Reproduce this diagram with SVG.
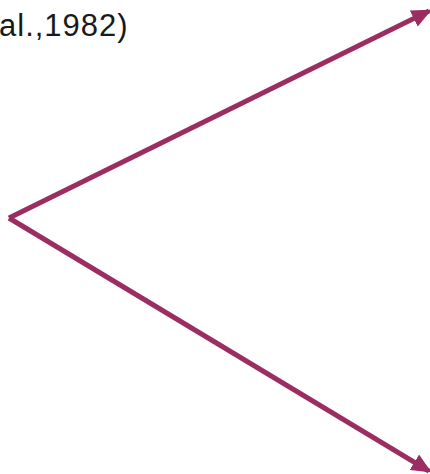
<svg xmlns="http://www.w3.org/2000/svg" width="430" height="474" viewBox="0 0 430 474">
<style>
.c{stroke:#9B2D62;stroke-width:5;fill:none;stroke-linecap:butt}
.t{font-family:"Liberation Sans",Arial,sans-serif;font-size:31px;fill:#1a1a1a;letter-spacing:1px}
</style>
<defs>
<marker id="ah" markerWidth="4" markerHeight="3.6" refX="3.4" refY="1.8" orient="auto" markerUnits="strokeWidth">
<path d="M0,0 L4,1.8 L0,3.6 Z" fill="#9B2D62"/>
</marker>
</defs>
<rect width="430" height="474" fill="#ffffff"/>
<g id="label"><text class="t" x="-1" y="36">al.,1982)</text></g>
<g id="connectors">
<line class="c" x1="9" y1="218" x2="429" y2="11" marker-end="url(#ah)"/>
<line class="c" x1="9" y1="218" x2="429" y2="471" marker-end="url(#ah)"/>
</g>
</svg>
